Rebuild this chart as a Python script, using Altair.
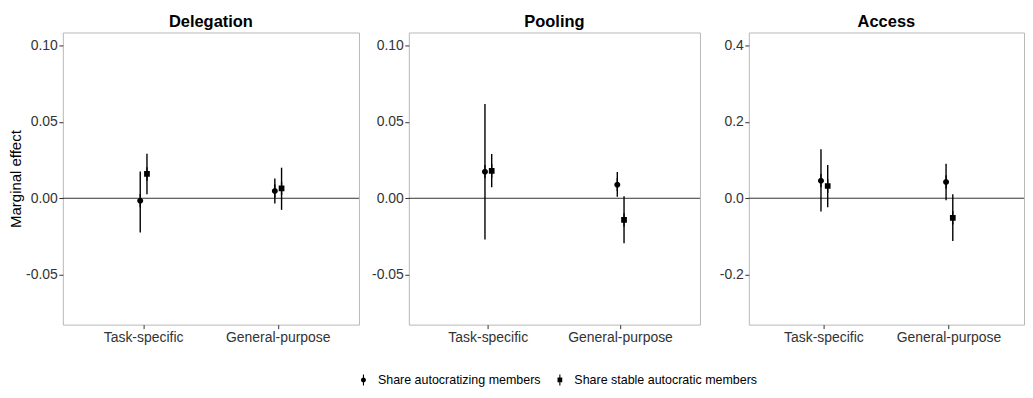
import altair as alt
import pandas as pd

panels = ["Delegation", "Pooling", "Access"]
categories = ["Task-specific", "General-purpose"]
series = ["Share autocratizing members", "Share stable autocratic members"]

# order per panel: (Task, circle), (Task, square), (General, circle), (General, square)
est = {
    "Delegation": [-0.0016, 0.0159, 0.0048, 0.0065],
    "Pooling": [0.0174, 0.0180, 0.0089, -0.0142],
    "Access": [0.046, 0.032, 0.0425, -0.0515],
}
lo = {
    "Delegation": [-0.0224, 0.0026, -0.0035, -0.0076],
    "Pooling": [-0.0270, 0.0072, 0.0010, -0.0294],
    "Access": [-0.035, -0.0235, -0.005, -0.112],
}
hi = {
    "Delegation": [0.0176, 0.0292, 0.0130, 0.0200],
    "Pooling": [0.0617, 0.0289, 0.0172, 0.0013],
    "Access": [0.128, 0.087, 0.090, 0.0104],
}
y_domains = {
    "Delegation": [-0.0827, 0.1085],
    "Pooling": [-0.0827, 0.1085],
    "Access": [-0.331, 0.434],
}
y_ticks = {
    "Delegation": [-0.05, 0.0, 0.05, 0.10],
    "Pooling": [-0.05, 0.0, 0.05, 0.10],
    "Access": [-0.2, 0.0, 0.2, 0.4],
}
y_formats = {"Delegation": ".2f", "Pooling": ".2f", "Access": ".1f"}
zero_line = [0.0]

FONT = "Liberation Sans"
widths = {"Delegation": 297, "Pooling": 292, "Access": 276}
extents = {"Delegation": 33, "Pooling": 38, "Access": 37}

# point-range glyphs: thin filled vertical bar plus a circle / square
sym_circle = ("M-0.1,-1L0.1,-1L0.1,1L-0.1,1Z"
              "M0.45,0A0.45,0.45,0,1,1,-0.45,0A0.45,0.45,0,1,1,0.45,0Z")
sym_square = ("M-0.1,-1L0.1,-1L0.1,1L-0.1,1Z"
              "M-0.43,-0.43L0.43,-0.43L0.43,0.43L-0.43,0.43Z")


def panel(name, first):
    rows = []
    i = 0
    for c in categories:
        for s in series:
            rows.append({"cat": c, "series": s, "est": est[name][i],
                         "lo": lo[name][i], "hi": hi[name][i]})
            i += 1
    df = pd.DataFrame(rows)
    yscale = alt.Scale(domain=y_domains[name], nice=False, zero=False)
    yaxis = alt.Axis(
        values=y_ticks[name], format=y_formats[name], grid=False, domain=False,
        tickColor="#333333", tickSize=4, labelPadding=1.5, labelFontSize=14,
        labelColor="#333333", labelFont=FONT,
        labelExpr="replace(datum.label, '\u2212', '-')",
        minExtent=extents[name], maxExtent=extents[name],
        title="Marginal effect" if first else None,
        titleFont=FONT, titleFontSize=15, titleFontWeight="normal",
        titleColor="#000000", titlePadding=6,
    )
    xscale = alt.Scale(domain=categories, paddingInner=0.9, paddingOuter=0.55)
    xaxis = alt.Axis(title=None, grid=False, domain=False, labelAngle=0,
                     tickColor="#333333", tickSize=4, labelPadding=2,
                     labelFontSize=14, labelColor="#333333", labelFont=FONT)
    base = alt.Chart(df)
    zero = alt.Chart(pd.DataFrame({"z": zero_line})).mark_rule(
        color="#333333", strokeWidth=1
    ).encode(y=alt.Y("z:Q", scale=yscale, axis=yaxis))
    rules = base.mark_rule(color="#000000", strokeWidth=1.4).encode(
        x=alt.X("cat:N", scale=xscale, axis=xaxis, sort=categories),
        xOffset=alt.XOffset("series:N", sort=series),
        y=alt.Y("lo:Q", scale=yscale, axis=yaxis),
        y2="hi:Q",
    )
    legend = alt.Legend(
        orient="none", legendX=295, legendY=342, direction="horizontal",
        title=None, labelFont=FONT, labelFontSize=12.5, labelColor="#000000",
        labelLimit=400, symbolSize=121, columnPadding=12, labelOffset=8,
        symbolFillColor="#000000", symbolOpacity=1,
    )
    pts = base.mark_point(filled=True, color="#000000", opacity=1, size=178).encode(
        x=alt.X("cat:N", scale=xscale, axis=xaxis, sort=categories),
        xOffset=alt.XOffset("series:N", sort=series),
        y=alt.Y("est:Q", scale=yscale, axis=yaxis),
        shape=alt.Shape("series:N", sort=series,
                        scale=alt.Scale(domain=series, range=[sym_circle, sym_square]),
                        legend=legend),
    )
    return alt.layer(zero, rules, pts).properties(
        width=widths[name], height=293,
        title=alt.Title(name, font=FONT, fontSize=16.5, fontWeight="bold",
                        color="#000000", anchor="middle", offset=2),
    )


chart = alt.hconcat(
    *[panel(n, i == 0) for i, n in enumerate(panels)], spacing=10
).resolve_scale(shape="shared").properties(
    padding={"left": 0, "top": 5, "right": 0, "bottom": 0}
).configure_view(stroke="#b8b8b8", strokeWidth=1)

chart.save("out.html", embed_options={"renderer": "svg", "actions": False})
